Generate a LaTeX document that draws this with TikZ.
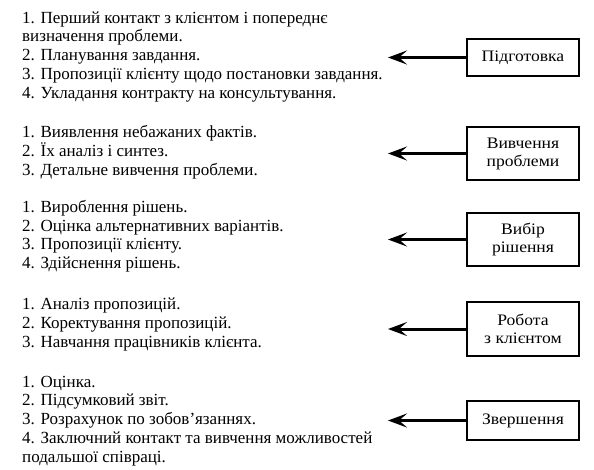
\documentclass[tikz,border=0pt]{standalone}
\usepackage{fontspec}
\setmainfont{Liberation Serif}
\newfontfamily\boxfont{Liberation Serif}[FakeStretch=1.1]
\usetikzlibrary{arrows.meta}

\begin{document}
\begin{tikzpicture}[x=1pt,y=-1pt,
  stage/.style={draw,line width=1.6pt,minimum width=112pt,inner sep=2pt,align=center,font=\boxfont\fontsize{16}{18}\selectfont},
  steps/.style={anchor=base west,align=left,inner sep=0pt,font=\fontsize{17}{18.7}\selectfont},
  link/.style={-{Stealth[length=19pt,width=14pt,inset=8pt]},line width=3pt}]
\useasboundingbox (0,0) rectangle (594,469);

% Preparation
\node[stage,minimum height=37pt] (prep) at (523,57.5) {Підготовка};
\coordinate (prep-end) at (388,57.5);
\node[steps] (prep-list) at (22,98) {1. Перший контакт з клієнтом і попереднє\\
визначення проблеми.\\
2. Планування завдання.\\
3. Пропозиції клієнту щодо постановки завдання.\\
4. Укладання контракту на консультування.};
\draw[link] (prep) -- (prep-end);

% Problem study
\node[stage,minimum height=53pt] (study) at (523,153.5) {Вивчення\\проблеми};
\coordinate (study-end) at (388,153.5);
\node[steps] (study-list) at (22,175) {1. Виявлення небажаних фактів.\\
2. Їх аналіз і синтез.\\
3. Детальне вивчення проблеми.};
\draw[link] (study) -- (study-end);

% Choice of solution
\node[stage,minimum height=53pt] (choice) at (523,239.5) {Вибір\\рішення};
\coordinate (choice-end) at (388,239.5);
\node[steps] (choice-list) at (22,268.5) {1. Вироблення рішень.\\
2. Оцінка альтернативних варіантів.\\
3. Пропозиції клієнту.\\
4. Здійснення рішень.};
\draw[link] (choice) -- (choice-end);

% Work with client
\node[stage,minimum height=54pt] (work) at (523,329) {Робота\\з клієнтом};
\coordinate (work-end) at (388,329);
\node[steps] (work-list) at (22,347) {1. Аналіз пропозицій.\\
2. Коректування пропозицій.\\
3. Навчання працівників клієнта.};
\draw[link] (work) -- (work-end);

% Completion
\node[stage,minimum height=39pt] (final) at (523,420.5) {Звершення};
\coordinate (final-end) at (388,420.5);
\node[steps] (final-list) at (22,462) {1. Оцінка.\\
2. Підсумковий звіт.\\
3. Розрахунок по зобов’язаннях.\\
4. Заключний контакт та вивчення можливостей\\
подальшої співраці.};
\draw[link] (final) -- (final-end);

\end{tikzpicture}
\end{document}
